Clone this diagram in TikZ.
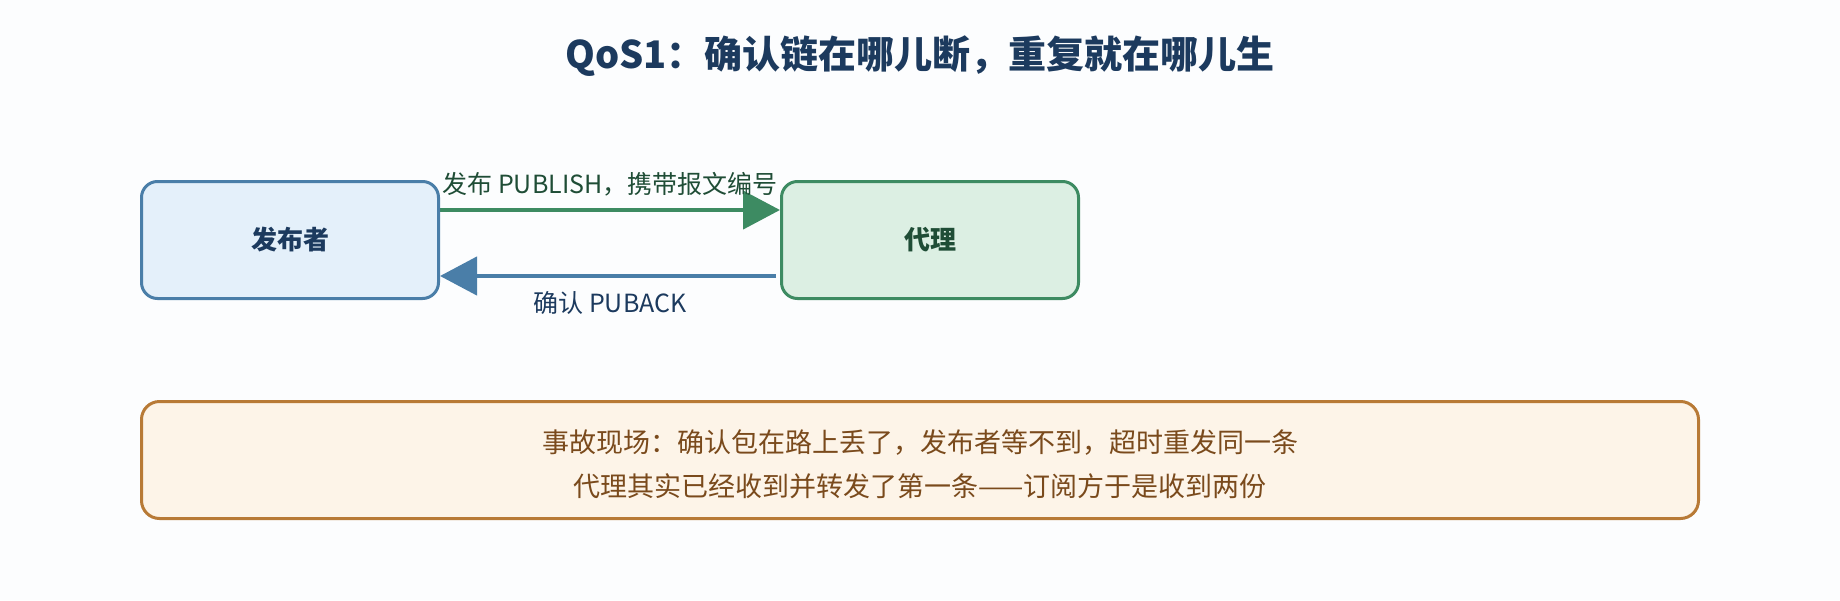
\documentclass[tikz,border=0pt]{standalone}
\usepackage{fontspec}
\setmainfont{Noto Sans CJK SC}
\usetikzlibrary{arrows.meta}
\pgfdeclarelayer{bg}
\pgfsetlayers{bg,main}
\definecolor{paper}{HTML}{FCFDFE}
\definecolor{publine}{HTML}{4A7EA8}
\definecolor{pubfill}{HTML}{E4F0FA}
\definecolor{pubtext}{HTML}{1C3A5E}
\definecolor{brkline}{HTML}{3D8B62}
\definecolor{brkfill}{HTML}{DCEFE3}
\definecolor{brktext}{HTML}{1F4D36}
\definecolor{notline}{HTML}{B87A36}
\definecolor{notfill}{HTML}{FDF4E8}
\definecolor{nottext}{HTML}{7A4A1C}
\tikzset{
    every node/.style={inner sep=0mm}
}
\tikzset{
    party/.style={rectangle, rounded corners=16pt, line width=3pt, minimum width=297pt, minimum height=117pt, font=\fontsize{26}{30}\selectfont\bfseries},
    msglbl/.style={font=\fontsize{25}{30}\selectfont},
    msgline/.style={line width=4.5pt, -{Triangle[length=37pt,width=38pt]}}
}

\begin{document}
\begin{tikzpicture}[x=1pt, y=-1pt]
        \node (title) [font=\fontsize{38}{44}\selectfont\bfseries, text=pubtext] at (920,56) {QoS1：确认链在哪儿断，重复就在哪儿生};
        \node (pub) [party, draw=publine, fill=pubfill, text=pubtext] at (290,240) {发布者};
        \node (brk) [party, draw=brkline, fill=brkfill, text=brktext] at (930,240) {代理};
        \node (publbl) [msglbl, text=brktext] at (610,184) {发布 PUBLISH，携带报文编号};
        \node (acklbl) [msglbl, text=pubtext] at (610,303) {确认 PUBACK};
        \node (note) [rectangle, rounded corners=18pt, line width=3pt, draw=notline, fill=notfill, minimum width=1557pt, minimum height=117pt] at (920,460) {};
        \node (notetxt) [align=center, font=\fontsize{27}{44}\selectfont, text=nottext] at (920,464) {事故现场：确认包在路上丢了，发布者等不到，超时重发同一条\\代理其实已经收到并转发了第一条——订阅方于是收到两份};
        \begin{pgfonlayer}{bg}
                \fill [paper] (0,0) rectangle (1840,600);
                \draw ([yshift=30pt]pub.east) edge [msgline, brkline] ([yshift=30pt]brk.west);
                \draw ([yshift=-36pt]brk.west) edge [msgline, publine, shorten <=4pt] ([yshift=-36pt]pub.east);
        \end{pgfonlayer}
\end{tikzpicture}
\end{document}
